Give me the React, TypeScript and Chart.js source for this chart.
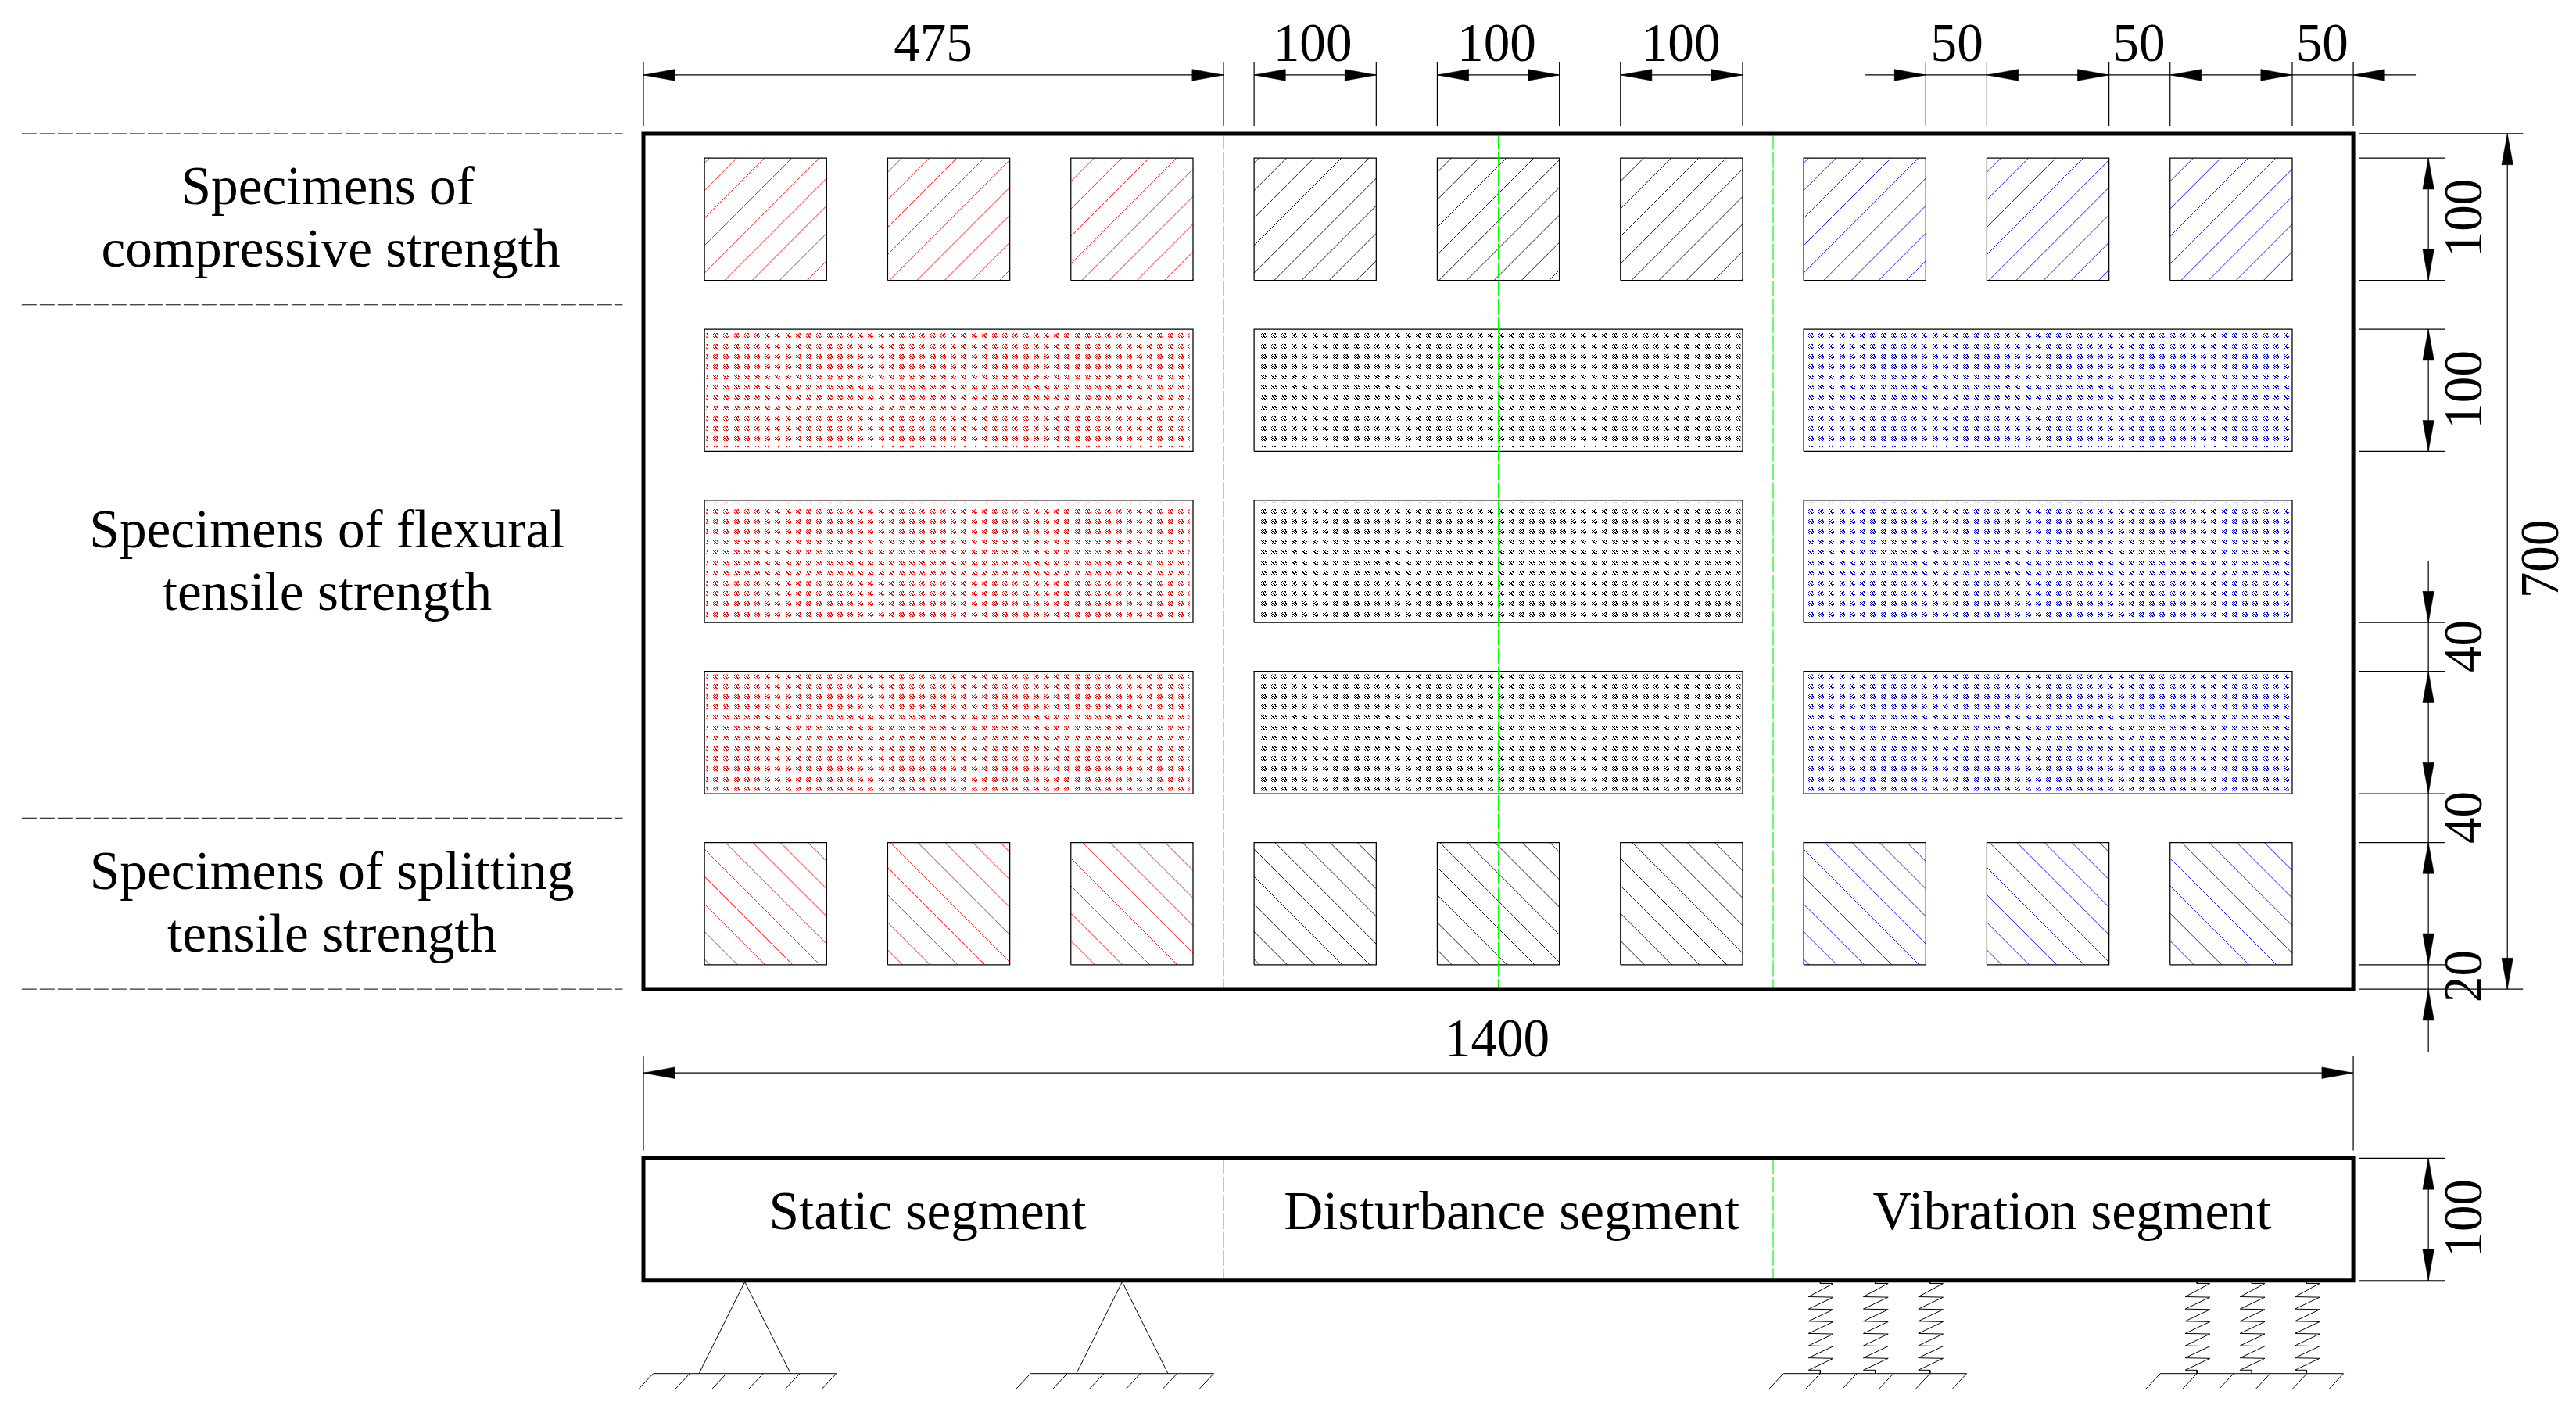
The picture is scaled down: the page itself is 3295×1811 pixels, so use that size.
import { useEffect, useRef } from 'react';
import { Chart, registerables } from 'chart.js';
Chart.register(...registerables);

// drawing units are mm, the scales below map them onto the 3295x1811 page
const W = 3295;
const H = 1811;
const PX_X = 1.566;
const PX_Y = 1.57;
const X_MIN = -821 / PX_X;
const X_MAX = (W - 821) / PX_X;
const Y_MAX = 1266.7 / PX_Y;
const Y_MIN = (1266.7 - H) / PX_Y;

const SLAB = [0, 1400, 0, 700];
const BEAM = [0, 1400, -238.4, -138.4];

const GROUP_COLORS = ['#ff0000', '#000000', '#0000ff'];
const SQUARE_LEFTS = [[50, 200, 350], [500, 650, 800], [950, 1100, 1250]];
const SQUARE_SIZE = 100;
const TOP_ROW = [580, 680];
const BOTTOM_ROW = [20, 120];
const PRISM_SPANS = [[50, 450], [500, 900], [950, 1350]];
const PRISM_ROWS = [[440, 540], [300, 400], [160, 260]];

const HATCH_PITCH = 22.5;
const HATCH_RISE_ORIGIN = -626;
const HATCH_FALL_ORIGIN = 164.6;
const DOT_ORIGIN = [59.3, 534.7];
const DOT_PITCH = [8.46, 8.44];
const DOT_CELL = [
  '.X..XX.',
  'X..X.X.',
  '.XX..XX',
  '..XX...',
  'X..XX.X',
  '.X..XX.',
];

const SEGMENT_LINES = [475, 700, 925];
const LEFT_DASH_Y = [700, 560, 140, 0];

const TOP_EXT_X = [0, 475, 500, 600, 650, 750, 800, 900, 1050, 1100, 1200, 1250, 1350, 1400];
const TOP_DIM_SPANS = [[0, 475], [500, 600], [650, 750], [800, 900], [1000.6, 1451.2]];
const TOP_ARROWS_L = [0, 500, 650, 800, 1100, 1250, 1400];
const TOP_ARROWS_R = [475, 600, 750, 900, 1050, 1200, 1350];
const TOP_DIM_Y = 748;

const RIGHT_EXT_Y = [680, 580, 540, 440, 300, 260, 160, 120, 20, -138.4, -238.4];
const RIGHT_LONG_EXT_Y = [700, 0];
const RIGHT_DIM_X = 1461.5;
const RIGHT_LONG_DIM_X = 1526.2;
const RIGHT_DIM_SPANS = [[580, 680], [440, 540], [-51.4, 350], [-238.4, -138.4]];
const RIGHT_ARROWS_U = [680, 540, 260, 120, 0, -138.4];
const RIGHT_ARROWS_D = [580, 440, 300, 160, 20, -238.4];

const WIDTH_DIM_Y = -68.5;

const SUPPORT_APEX = [83, 392];
const GROUND_CENTERS = [83, 392, 1008.5, 1317];
const GROUND_TICKS = [-75, -45, -15, 15, 45, 75];
const SPRING_X = [963.6, 1008.5, 1053.5, 1272, 1316.9, 1361.8];
const SPRING_LEVELS = [-251.7, -261.7, -271.7, -281.7, -291.7, -301.7, -311.7];
const GROUND_Y = -314.5;

const NUMBER_TEXT = ['475', '100', '100', '100', '50', '50', '50', '1400'];
const NUMBER_X = [237.2, 548, 698.7, 849.5, 1075.5, 1224.5, 1374.5, 699];
const NUMBER_Y = [759.5, 759.5, 759.5, 759.5, 759.5, 759.5, 759.5, -55];

const SIDE_TEXT = ['100', '100', '40', '40', '20', '100', '700'];
const SIDE_X = [1505, 1505, 1505, 1505, 1505, 1505, 1567.5];
const SIDE_Y = [630.9, 490.5, 280.6, 140.5, 10.6, -187.5, 352];

const NAME_TEXT = [
  'Specimens of', 'compressive strength',
  'Specimens of flexural', 'tensile strength',
  'Specimens of splitting', 'tensile strength',
  'Static segment', 'Disturbance segment', 'Vibration segment',
];
const NAME_X = [-258.5, -256, -259, -259, -255, -255, 232.7, 711, 1169.7];
const NAME_Y = [642.4, 591.3, 361.6, 310.5, 82.2, 31, -196.5, -196.5, -196.5];

const gap = { x: NaN, y: NaN };
type P = { x: number; y: number };

function seg(x1: number, y1: number, x2: number, y2: number): P[] {
  return [{ x: x1, y: y1 }, { x: x2, y: y2 }, gap];
}

function rect(x0: number, x1: number, y0: number, y1: number): P[] {
  return [
    { x: x0, y: y0 }, { x: x1, y: y0 }, { x: x1, y: y1 }, { x: x0, y: y1 }, { x: x0, y: y0 }, gap,
  ];
}

function hatch(x0: number, x1: number, y0: number, y1: number, rising: boolean): P[] {
  const out: P[] = [];
  for (let k = -60; k < 130; k++) {
    if (rising) {
      const c = HATCH_RISE_ORIGIN + k * HATCH_PITCH;
      const a = Math.max(y0, x0 - c);
      const b = Math.min(y1, x1 - c);
      if (a < b) out.push(...seg(a + c, a, b + c, b));
    } else {
      const c = HATCH_FALL_ORIGIN + k * HATCH_PITCH;
      const a = Math.max(y0, c - x1);
      const b = Math.min(y1, c - x0);
      if (a < b) out.push(...seg(c - a, a, c - b, b));
    }
  }
  return out;
}

function dots(x0: number, x1: number, y0: number, y1: number): P[] {
  const out: P[] = [];
  for (let i = -20; i < 170; i++) {
    const x = DOT_ORIGIN[0] + i * DOT_PITCH[0];
    if (x < x0 - 4 || x > x1 + 4) continue;
    for (let j = -70; j < 30; j++) {
      const y = DOT_ORIGIN[1] + j * DOT_PITCH[1];
      if (y < y0 - 4 || y > y1 + 4) continue;
      out.push({ x, y });
    }
  }
  return out;
}

function dotSprite(color: string) {
  const c = document.createElement('canvas');
  c.width = DOT_CELL[0].length;
  c.height = DOT_CELL.length;
  const g = c.getContext('2d')!;
  g.fillStyle = color;
  DOT_CELL.forEach((row, y) => {
    row.split('').forEach((v, x) => {
      if (v === 'X') g.fillRect(x, y, 1, 1);
    });
  });
  return c;
}

function line(data: P[], borderColor: string, borderWidth: number, extra: object = {}) {
  return { data, borderColor, borderWidth, showLine: true, pointRadius: 0, spanGaps: false, tension: 0, ...extra };
}

const ARROW_LEN_X = 40 / PX_X;
const ARROW_LEN_Y = 40 / PX_Y;
const ARROW_HALF_X = 7.3 / PX_X;
const ARROW_HALF_Y = 7.3 / PX_Y;

function arrow(x: number, y: number, dx: number, dy: number) {
  const bx = x - dx * ARROW_LEN_X;
  const by = y - dy * ARROW_LEN_Y;
  const data = dx
    ? [{ x, y }, { x: bx, y: by + ARROW_HALF_Y }, { x: bx, y: by - ARROW_HALF_Y }, { x, y }]
    : [{ x, y }, { x: bx + ARROW_HALF_X, y: by }, { x: bx - ARROW_HALF_X, y: by }, { x, y }];
  return line(data, '#000000', 0.5, { fill: 'shape', backgroundColor: '#000000' });
}

function thinLines(): P[] {
  const out: P[] = [];
  TOP_EXT_X.forEach((x) => out.push(...seg(x, 706.4, x, 758.8)));
  TOP_DIM_SPANS.forEach(([a, b]) => out.push(...seg(a, TOP_DIM_Y, b, TOP_DIM_Y)));
  RIGHT_EXT_Y.forEach((y) => out.push(...seg(1405, y, 1475, y)));
  RIGHT_LONG_EXT_Y.forEach((y) => out.push(...seg(1405, y, 1539, y)));
  RIGHT_DIM_SPANS.forEach(([a, b]) => out.push(...seg(RIGHT_DIM_X, a, RIGHT_DIM_X, b)));
  out.push(...seg(RIGHT_LONG_DIM_X, 0, RIGHT_LONG_DIM_X, 700));
  out.push(...seg(0, WIDTH_DIM_Y, 1400, WIDTH_DIM_Y));
  [0, 1400].forEach((x) => out.push(...seg(x, -132, x, -55)));
  return out;
}

function supportLines(): P[] {
  const out: P[] = [];
  SUPPORT_APEX.forEach((x) => {
    out.push({ x: x - 37.5, y: GROUND_Y }, { x, y: -239.5 }, { x: x + 37.5, y: GROUND_Y }, gap);
  });
  GROUND_CENTERS.forEach((c) => {
    out.push(...seg(c - 75, GROUND_Y, c + 75, GROUND_Y));
    GROUND_TICKS.forEach((t) => out.push(...seg(c + t, GROUND_Y, c + t - 12.2, -327.5)));
  });
  SPRING_X.forEach((c) => {
    out.push({ x: c, y: -238.4 }, { x: c, y: -240.8 }, { x: c + 10.7, y: -240.8 });
    SPRING_LEVELS.forEach((y, i) => {
      out.push({ x: c - 9.6, y });
      if (i < SPRING_LEVELS.length - 1) out.push({ x: c + 10.7, y: y - 0.4 });
    });
    out.push({ x: c, y: SPRING_LEVELS[SPRING_LEVELS.length - 1] }, { x: c, y: GROUND_Y }, gap);
  });
  return out;
}

const textPlugin = {
  id: 'drawingText',
  beforeDatasetsDraw(chart: any) {
    chart.ctx.imageSmoothingEnabled = false;
  },
  afterDatasetsDraw(chart: any) {
    const { ctx, scales } = chart;
    const put = (text: string, x: number, y: number, squeeze: number, turned: boolean) => {
      ctx.save();
      ctx.translate(scales.x.getPixelForValue(x), scales.y.getPixelForValue(y));
      if (turned) ctx.rotate(-Math.PI / 2);
      ctx.scale(squeeze, 1);
      ctx.fillText(text, 0, 0);
      ctx.restore();
    };
    ctx.save();
    ctx.fillStyle = '#000000';
    ctx.font = '70px "Liberation Serif"';
    ctx.textAlign = 'center';
    ctx.textBaseline = 'alphabetic';
    NUMBER_TEXT.forEach((t, i) => put(t, NUMBER_X[i], NUMBER_Y[i], 0.96, false));
    SIDE_TEXT.forEach((t, i) => put(t, SIDE_X[i], SIDE_Y[i], 0.96, true));
    NAME_TEXT.forEach((t, i) => put(t, NAME_X[i], NAME_Y[i], 0.99, false));
    ctx.restore();
  },
};

export default function App() {
  const canvasRef = useRef<HTMLCanvasElement>(null);

  useEffect(() => {
    if (!canvasRef.current) return;
    document.body.style.margin = '0';

    const datasets: any[] = [];

    // the first dataset ends up on top, chart.js paints them back to front
    datasets.push(line([...rect(SLAB[0], SLAB[1], SLAB[2], SLAB[3]), ...rect(BEAM[0], BEAM[1], BEAM[2], BEAM[3])], '#000000', 5, {
      borderJoinStyle: 'miter',
      borderCapStyle: 'square',
    }));
    [...TOP_ARROWS_L.map((x) => arrow(x, TOP_DIM_Y, -1, 0)),
      ...TOP_ARROWS_R.map((x) => arrow(x, TOP_DIM_Y, 1, 0)),
      arrow(0, WIDTH_DIM_Y, -1, 0),
      arrow(1400, WIDTH_DIM_Y, 1, 0),
      ...RIGHT_ARROWS_U.map((y) => arrow(RIGHT_DIM_X, y, 0, 1)),
      ...RIGHT_ARROWS_D.map((y) => arrow(RIGHT_DIM_X, y, 0, -1)),
      arrow(RIGHT_LONG_DIM_X, 700, 0, 1),
      arrow(RIGHT_LONG_DIM_X, 0, 0, -1),
    ].forEach((d) => datasets.push(d));

    datasets.push(line(thinLines(), '#000000', 1.2));
    datasets.push(line(supportLines(), '#000000', 1));

    const dashes: P[] = [];
    LEFT_DASH_Y.forEach((y) => dashes.push(...seg(-509, y, -17, y)));
    datasets.push(line(dashes, '#000000', 1, { borderDash: [19, 4] }));

    const green: P[] = [];
    SEGMENT_LINES.forEach((x) => green.push(...seg(x, 700, x, 0)));
    [SEGMENT_LINES[0], SEGMENT_LINES[2]].forEach((x) => green.push(...seg(x, BEAM[3], x, BEAM[2])));
    datasets.push(line(green, '#00ff00', 1.2, { borderDash: [20, 3.5] }));

    const boxes: P[] = [];
    SQUARE_LEFTS.flat().forEach((x) => {
      boxes.push(...rect(x, x + SQUARE_SIZE, TOP_ROW[0], TOP_ROW[1]));
      boxes.push(...rect(x, x + SQUARE_SIZE, BOTTOM_ROW[0], BOTTOM_ROW[1]));
    });
    PRISM_SPANS.forEach(([a, b]) => {
      PRISM_ROWS.forEach(([y0, y1]) => boxes.push(...rect(a, b, y0, y1)));
    });
    datasets.push(line(boxes, '#000000', 1.25));

    GROUP_COLORS.forEach((color, g) => {
      const lines: P[] = [];
      SQUARE_LEFTS[g].forEach((x) => {
        lines.push(...hatch(x, x + SQUARE_SIZE, TOP_ROW[0], TOP_ROW[1], true));
        lines.push(...hatch(x, x + SQUARE_SIZE, BOTTOM_ROW[0], BOTTOM_ROW[1], false));
      });
      datasets.push(line(lines, color, 0.9));

      const sprite = dotSprite(color);
      const [a, b] = PRISM_SPANS[g];
      PRISM_ROWS.forEach(([y0, y1]) => {
        datasets.push({
          data: dots(a, b, y0, y1),
          showLine: false,
          pointStyle: sprite,
          pointRadius: 4,
          pointBorderWidth: 0,
          // negative clip keeps the dot pattern inside its own prism
          clip: {
            left: -(a - X_MIN) * PX_X,
            right: -(X_MAX - b) * PX_X,
            top: -(Y_MAX - y1) * PX_Y,
            bottom: -(y0 - Y_MIN) * PX_Y,
          },
        });
      });
    });

    const chart = new Chart(canvasRef.current, {
      type: 'scatter',
      data: { datasets },
      options: {
        animation: false,
        responsive: false,
        devicePixelRatio: 1,
        events: [],
        layout: { padding: 0 },
        plugins: { legend: { display: false }, tooltip: { enabled: false } },
        scales: {
          x: { type: 'linear', display: false, min: X_MIN, max: X_MAX },
          y: { type: 'linear', display: false, min: Y_MIN, max: Y_MAX },
        },
      },
      plugins: [textPlugin],
    } as any);
    return () => { chart.destroy(); };
  }, []);

  return (
    <div style={{ position: 'fixed', left: 0, top: 0, width: W, height: H, background: '#ffffff' }}>
      <canvas ref={canvasRef} width={W} height={H} style={{ display: 'block' }} />
    </div>
  );
}
